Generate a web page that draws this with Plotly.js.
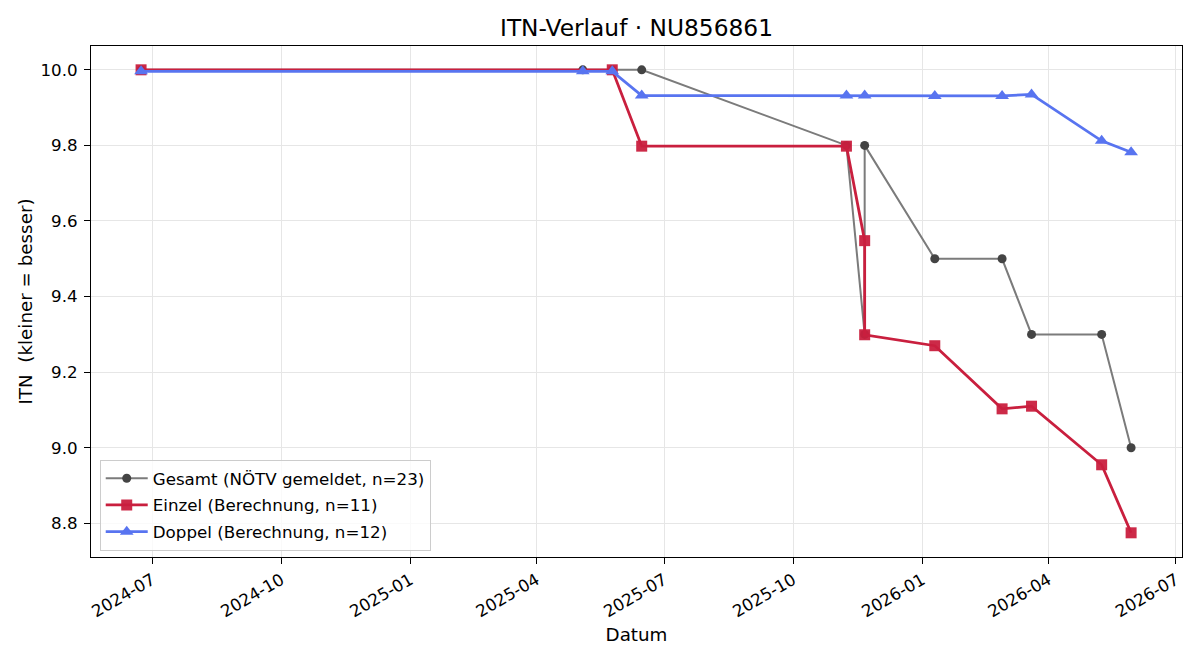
<!DOCTYPE html>
<html>
<head>
<meta charset="utf-8">
<script src="https://cdn.plot.ly/plotly-3.0.1.min.js"></script>
<style>html,body{margin:0;padding:0;background:#fff;}#chart{width:1200px;height:660px;}</style>
</head>
<body>
<div id="chart"></div>
<script>
// Gesamt (NÖTV gemeldet)
const gesamtDates = ['2024-06-23','2025-05-04','2025-05-25','2025-06-15','2025-11-08','2025-11-21','2025-11-21','2026-01-10','2026-02-27','2026-03-20','2026-05-09','2026-05-30'];
const gesamtITN   = [10.0, 10.0, 10.0, 10.0, 9.8, 9.3, 9.8, 9.5, 9.5, 9.3, 9.3, 9.0];

// Einzel (Berechnung)
const einzelDates = ['2024-06-23','2025-05-25','2025-06-15','2025-11-08','2025-11-21','2025-11-21','2026-01-10','2026-02-27','2026-03-20','2026-05-09','2026-05-30'];
const einzelITN   = [10.0, 10.0, 9.798, 9.798, 9.548, 9.299, 9.270, 9.103, 9.110, 8.955, 8.775];

// Doppel (Berechnung)
const doppelDates = ['2024-06-23','2025-05-04','2025-05-25','2025-06-15','2025-11-08','2025-11-21','2026-01-10','2026-02-27','2026-03-20','2026-05-09','2026-05-30'];
const doppelITN   = [9.996, 9.996, 9.996, 9.932, 9.932, 9.932, 9.931, 9.931, 9.935, 9.812, 9.782];

const seriesNames = ['Gesamt (NÖTV gemeldet, n=23)', 'Einzel (Berechnung, n=11)', 'Doppel (Berechnung, n=12)'];

const FONT = 'DejaVu Sans, sans-serif';

const traces = [
  {x: gesamtDates, y: gesamtITN, name: seriesNames[0], type: 'scatter', mode: 'lines+markers',
   line: {color: '#7b7b7b', width: 2}, marker: {symbol: 'circle', size: 9, color: '#444444'},
   legendgroup: 'g1'},
  {x: einzelDates, y: einzelITN, name: seriesNames[1], type: 'scatter', mode: 'lines+markers',
   line: {color: '#c91f3e', width: 2.8}, marker: {symbol: 'square', size: 11, color: '#c91f3e', opacity: 0.95},
   legendgroup: 'g2'},
  {x: doppelDates, y: doppelITN, name: seriesNames[2], type: 'scatter', mode: 'lines+markers',
   line: {color: '#5874f0', width: 2.8}, marker: {symbol: 'triangle-up', size: 12, color: '#5874f0'},
   legendgroup: 'g3'}
];

const layout = {
  width: 1200, height: 660,
  margin: {l: 91, r: 18, t: 46, b: 103},
  paper_bgcolor: '#ffffff', plot_bgcolor: '#ffffff',
  font: {family: FONT, size: 16.7, color: '#000000'},
  title: {text: 'ITN-Verlauf · NU856861', font: {family: FONT, size: 23.3, color: '#000'},
          x: 0.5, xanchor: 'center', xref: 'paper', y: 1 - 28/660, yanchor: 'middle', yref: 'container'},
  showlegend: true,
  legend: {x: 0.008, y: 0.012, xanchor: 'left', yanchor: 'bottom', xref: 'paper', yref: 'paper',
           bgcolor: 'rgba(255,255,255,0.8)', bordercolor: '#cccccc', borderwidth: 1,
           font: {family: FONT, size: 16.7, color: '#000'}, tracegroupgap: 2, itemwidth: 42},
  xaxis: {
    type: 'date',
    range: ['2024-05-18 07:00', '2026-07-05 07:00'],
    tick0: '2024-07-01', dtick: 'M3', tickformat: '%Y-%m', tickangle: -30,
    ticks: 'outside', ticklen: 6, tickwidth: 1, tickcolor: '#000',
    showline: true, linecolor: '#000', linewidth: 1, mirror: true,
    showgrid: true, gridcolor: '#e6e6e6', gridwidth: 1, zeroline: false,
    tickfont: {family: FONT, size: 16.7, color: '#000'},
    title: {text: 'Datum', font: {family: FONT, size: 18.3, color: '#000'}, standoff: 7},
    automargin: false
  },
  yaxis: {
    range: [8.711, 10.063],
    tick0: 8.8, dtick: 0.2, tickformat: '.1f',
    ticks: 'outside', ticklen: 6, tickwidth: 1, tickcolor: '#000',
    ticklabelstandoff: 3,
    showline: true, linecolor: '#000', linewidth: 1, mirror: true,
    showgrid: true, gridcolor: '#e6e6e6', gridwidth: 1, zeroline: false,
    tickfont: {family: FONT, size: 16.7, color: '#000'},
    title: {text: 'ITN\u00a0 (kleiner = besser)', font: {family: FONT, size: 18.3, color: '#000'}, standoff: 3},
    automargin: false
  }
};

Plotly.newPlot('chart', traces, layout, {displayModeBar: false, staticPlot: true});
</script>
</body>
</html>
